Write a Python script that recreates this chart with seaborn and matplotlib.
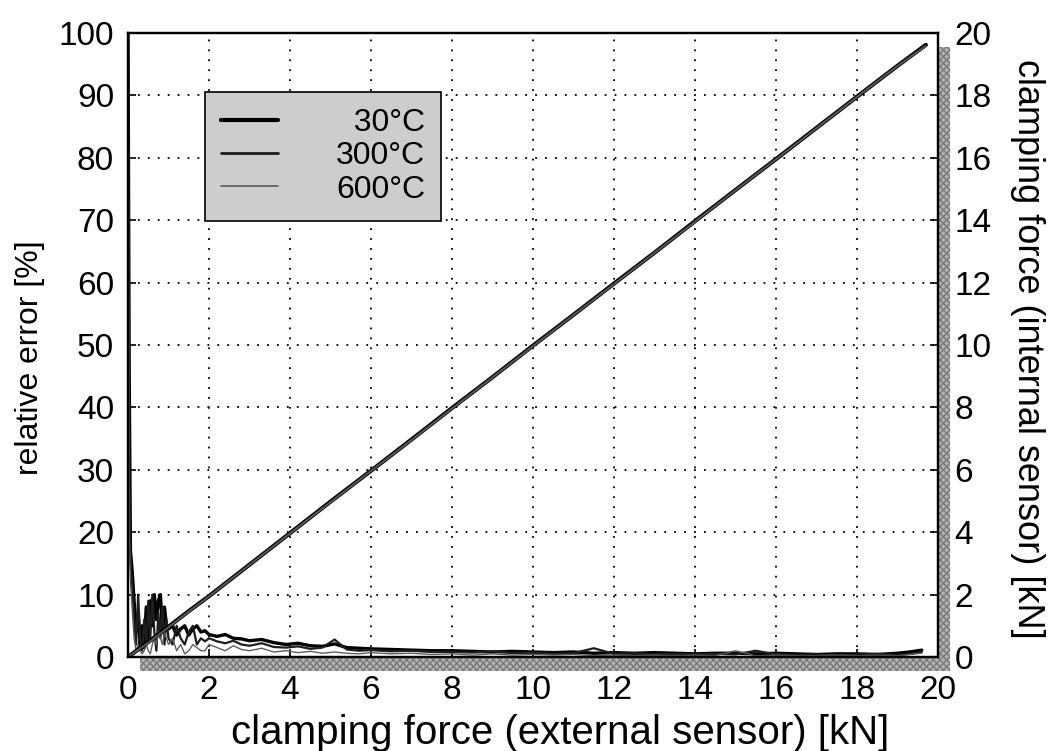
import matplotlib
matplotlib.use('Agg')
import matplotlib.pyplot as plt
from matplotlib.patches import Rectangle
import seaborn as sns
import pandas as pd

# relative error [%] vs external clamping force [kN]
x_err = [0, 0.03, 0.06, 0.1, 0.15, 0.2, 0.25, 0.3, 0.35, 0.4,
         0.45, 0.5, 0.55, 0.6, 0.65, 0.7, 0.75, 0.8, 0.85, 0.9,
         0.95, 1.0, 1.1, 1.2, 1.3, 1.4, 1.5, 1.6, 1.7, 1.8,
         1.9, 2.0, 2.2, 2.4, 2.6, 2.8, 3.0, 3.3, 3.6, 3.9,
         4.2, 4.5, 4.8, 5.1, 5.4, 5.7, 6.0, 6.5, 7.0, 7.5,
         8.0, 8.5, 9.0, 9.5, 10.0, 10.5, 11.0, 11.5, 12.0, 12.5,
         13.0, 13.5, 14.0, 14.5, 15.0, 15.5, 16.0, 16.5, 17.0, 17.5,
         18.0, 18.5, 19.0, 19.3, 19.6]
err_30 = [100, 45, 17, 14, 9, 4, 7, 2, 5, 1.5,
          8, 3, 9, 5, 10, 6, 9, 10, 4, 8,
          5, 4.5, 5, 3.5, 4.5, 5, 3.5, 4.5, 5, 4,
          4.2, 3.6, 3.3, 3.6, 3.0, 2.9, 2.6, 2.8, 2.3, 2.0,
          2.2, 1.8, 1.7, 2.1, 1.5, 1.4, 1.3, 1.2, 1.1, 1.0,
          1.0, 0.9, 0.8, 0.9, 0.8, 0.7, 0.8, 0.6, 0.7, 0.6,
          0.7, 0.6, 0.5, 0.6, 0.6, 0.5, 0.6, 0.5, 0.4, 0.5,
          0.5, 0.4, 0.6, 0.8, 1.1]
err_300 = [100, 30, 15, 12, 6, 2, 10, 3, 1, 6,
           2, 9, 3, 10, 4, 1, 7, 3, 8, 2,
           6, 3, 2, 5, 3, 2, 4, 5, 2, 3,
           2.5, 3, 2.5, 2.2, 2.6, 2.0, 1.8, 2.2, 1.6, 1.5,
           1.7, 1.3, 1.5, 2.8, 1.2, 1.0, 1.1, 0.9, 1.0, 0.8,
           0.8, 0.7, 0.9, 0.6, 0.7, 0.5, 0.6, 1.4, 0.5, 0.6,
           0.4, 0.5, 0.4, 0.5, 0.4, 1.0, 0.4, 0.3, 0.4, 0.3,
           0.4, 0.5, 0.3, 0.5, 0.8]
err_600 = [100, 20, 12, 8, 3, 1, 2, 1, 0.5, 1,
           2, 1, 0.5, 2, 3, 2, 4, 3, 2, 4,
           3, 2, 3, 1, 2, 0.5, 1, 2, 1.5, 1,
           1, 2, 1.5, 1, 1.8, 1.2, 1.0, 1.4, 0.8, 1.0,
           0.7, 0.9, 0.6, 0.8, 0.6, 0.5, 0.7, 0.5, 0.6, 0.4,
           0.5, 0.3, 0.5, 0.3, 0.4, 0.3, 0.4, 0.2, 0.3, 0.2,
           0.3, 0.2, 0.3, 0.2, 1.0, 0.2, 0.3, 0.2, 0.2, 0.3,
           0.2, 0.3, 0.2, 0.4, 0.6]

# internal sensor force [kN] vs external sensor force [kN]
x_force = [0, 0.5, 1, 1.5, 2, 3, 4, 5, 6, 7, 8, 9, 10,
           11, 12, 13, 14, 15, 16, 17, 18, 19, 19.7]
int_30 = [0, 0.48, 0.97, 1.47, 1.95, 2.96, 3.97, 4.98, 5.97, 6.97, 7.98, 8.97, 9.98,
          10.97, 11.97, 12.96, 13.97, 14.97, 15.96, 16.96, 17.96, 18.95, 19.62]
int_300 = [0, 0.46, 0.96, 1.46, 1.96, 2.97, 3.96, 4.97, 5.98, 6.96, 7.97, 8.98, 9.97,
           10.98, 11.96, 12.97, 13.96, 14.98, 15.97, 16.95, 17.97, 18.96, 19.6]
int_600 = [0, 0.45, 0.95, 1.45, 1.94, 2.95, 3.96, 4.96, 5.96, 6.95, 7.96, 8.96, 9.96,
           10.96, 11.95, 12.95, 13.95, 14.96, 15.95, 16.95, 17.95, 18.94, 19.58]

labels = ['30°C', '300°C', '600°C']
colors = ['black', '#1e1e1e', '#5a5a5a']
widths = [3.0, 2.0, 1.2]

sns.set_style('ticks')
plt.rcParams['font.family'] = ['Liberation Sans', 'DejaVu Sans']
plt.rcParams['font.size'] = 24
for key in ['text.color', 'axes.labelcolor', 'xtick.color', 'ytick.color', 'axes.edgecolor']:
    plt.rcParams[key] = 'black'

fig = plt.figure(figsize=(10.51, 7.51), dpi=100)
ax = fig.add_axes([0.1218, 0.1252, 0.7707, 0.8308])
ax.set_facecolor('white')
ax2 = ax.twinx()

err_df = pd.DataFrame({'x': x_err * 3,
                       'err': err_30 + err_300 + err_600,
                       'temp': [labels[0]] * len(x_err) + [labels[1]] * len(x_err)
                               + [labels[2]] * len(x_err)})
for lab, col, lw in zip(labels, colors, widths):
    sub = err_df[err_df['temp'] == lab]
    sns.lineplot(data=sub, x='x', y='err', ax=ax, color=col, linewidth=lw * 0.8,
                 sort=False, estimator=None, legend=False)

force_df = pd.DataFrame({'x': x_force * 3,
                         'f': int_30 + int_300 + int_600,
                         'temp': [labels[0]] * len(x_force) + [labels[1]] * len(x_force)
                                 + [labels[2]] * len(x_force)})
handles = []
for lab, col, lw in zip(labels, colors, widths):
    sub = force_df[force_df['temp'] == lab]
    sns.lineplot(data=sub, x='x', y='f', ax=ax2, color=col, linewidth=lw,
                 sort=False, estimator=None, legend=False)
    handles.append(ax2.lines[-1])

ax.set_xlim(0, 20)
ax.set_ylim(0, 100)
ax2.set_ylim(0, 20)
ax.set_xticks(range(0, 21, 2))
ax.set_yticks(range(0, 101, 10))
ax2.set_yticks(range(0, 21, 2))
ax.grid(True, color='black', linestyle=(0, (1, 4.5)), linewidth=1.3)
ax.tick_params(axis='x', direction='in', length=6, width=1.2, pad=13, labelsize=24)
ax.tick_params(axis='y', direction='in', length=6, width=1.2, pad=10, labelsize=24)
ax2.tick_params(direction='in', length=6, width=1.2, pad=12, labelsize=24)
for sp in ax.spines.values():
    sp.set_linewidth(1.6)
    sp.set_visible(True)
for sp in ax2.spines.values():
    sp.set_linewidth(1.6)

ax.set_xlabel('clamping force (external sensor) [kN]', fontsize=29, va='center')
ax.xaxis.set_label_coords(0.533, -0.122)
ax.set_ylabel('relative error [%]', fontsize=23, va='center', ha='center')
ax.yaxis.set_label_coords(-0.121, 0.48)
ax2.set_ylabel('clamping force (internal sensor) [kN]', rotation=270, fontsize=26,
               va='center', ha='center')
ax2.yaxis.set_label_coords(1.111, 0.494)

# drop shadow of the plot frame
dx, dy = 12 / 1051, 14 / 751
pos = ax.get_position()
fig.add_artist(Rectangle((pos.x0 + dx, pos.y0 - dy), pos.width, pos.height,
                         transform=fig.transFigure, facecolor='#b4b4b4',
                         edgecolor='#7a7a7a', hatch='xxxxx', linewidth=0, zorder=-1))

leg_labels = ['\u2007' + labels[0], labels[1], labels[2]]
leg = ax2.legend(handles, leg_labels, loc='upper left', bbox_to_anchor=(0.095, 0.905),
                 fancybox=False, framealpha=1, facecolor='#cdcdcd', edgecolor='black',
                 handlelength=1.8, borderpad=0.5, labelspacing=0.1, handletextpad=1.8,
                 borderaxespad=0, fontsize=23)
leg.get_frame().set_linewidth(1.2)

fig.savefig('out.png', dpi=100)
